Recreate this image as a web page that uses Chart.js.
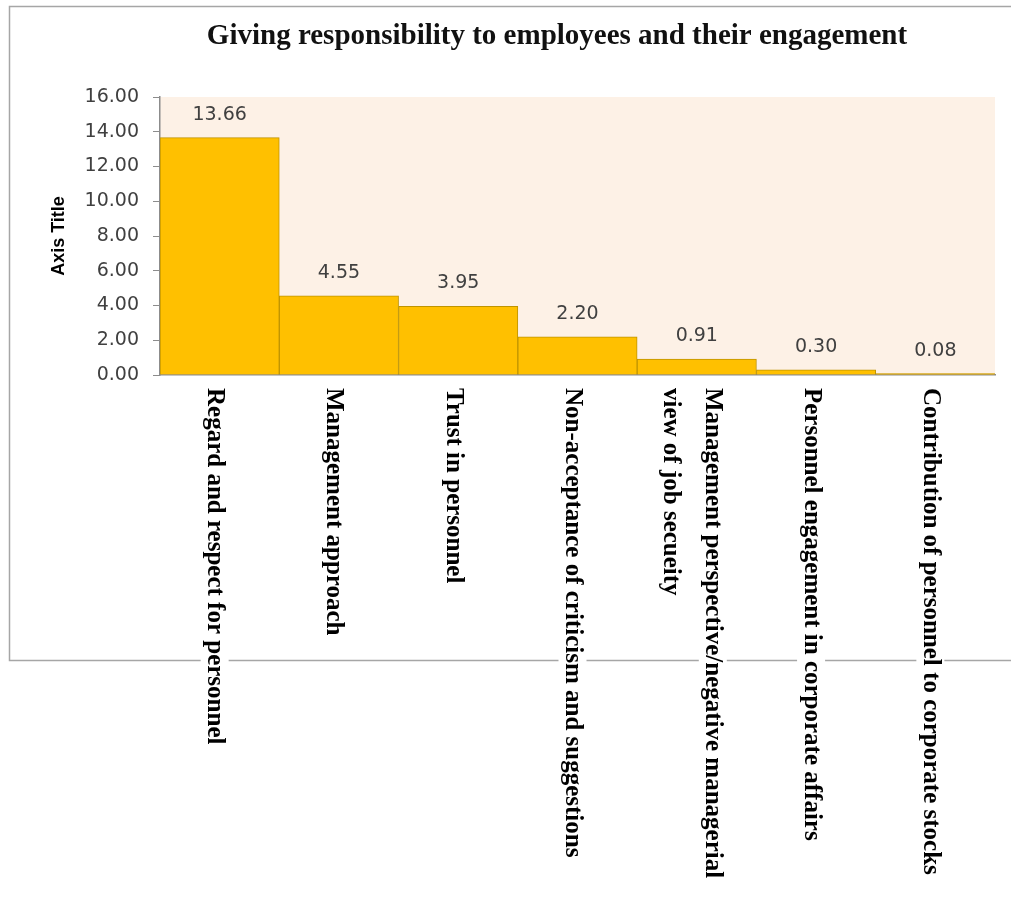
<!DOCTYPE html>
<html>
<head>
<meta charset="utf-8">
<script src="https://cdn.jsdelivr.net/npm/chart.js@4"></script>
<style>
  body { margin: 0; background: #fff; }
  #chart { display: block; }
</style>
</head>
<body>
<canvas id="chart" width="1011" height="897"></canvas>
<script>
const chartTitle = "Giving responsibility to employees and their engagement";

const categories = [
  "Regard and respect for personnel",
  "Management approach",
  "Trust in personnel",
  "Non-acceptance of criticism and suggestions",
  ["Management perspective/negative managerial", "view of job secueity"],
  "Personnel engagement in corporate affairs",
  "Contribution of personnel to corporate stocks",
];

const scores = [13.66, 4.55, 3.95, 2.2, 0.91, 0.3, 0.08];

const yMin = 0;
const yMax = 16;
const yStep = 2;

// white page, grey outer frame and the peach plot area
const backdrop = {
  id: "backdrop",
  beforeDraw(chart) {
    const { ctx, chartArea } = chart;
    ctx.save();
    ctx.fillStyle = "#ffffff";
    ctx.fillRect(0, 0, chart.width, chart.height);
    ctx.strokeStyle = "#a6a6a6";
    ctx.lineWidth = 1.5;
    ctx.strokeRect(9.5, 6.5, chart.width + 20, 654);
    ctx.fillStyle = "#fdf1e6";
    ctx.fillRect(chartArea.left, chartArea.top, chartArea.right - chartArea.left, chartArea.bottom - chartArea.top);
    ctx.restore();
  },
};

// value above each bar
const valueLabels = {
  id: "valueLabels",
  afterDatasetsDraw(chart) {
    const { ctx } = chart;
    const meta = chart.getDatasetMeta(0);
    ctx.save();
    ctx.font = "19px 'DejaVu Sans'";
    ctx.fillStyle = "#404040";
    ctx.textAlign = "center";
    ctx.textBaseline = "middle";
    meta.data.forEach((bar, i) => {
      ctx.fillText(scores[i].toFixed(2), bar.x, bar.y - 23);
    });
    ctx.restore();
  },
};

// category labels turned clockwise, reading downwards, plus the title
const categoryLabels = {
  id: "categoryLabels",
  afterDraw(chart) {
    const { ctx } = chart;
    const xScale = chart.scales.x;
    ctx.save();
    ctx.font = "bold 25px 'Liberation Serif'";
    ctx.textAlign = "left";
    ctx.textBaseline = "middle";
    categories.forEach((label, i) => {
      const lines = Array.isArray(label) ? label : [label];
      const cx = xScale.getPixelForValue(i) - 5;
      ctx.save();
      ctx.translate(cx, xScale.top + 13);
      ctx.rotate(Math.PI / 2);
      lines.forEach((line, j) => {
        const off = (j - (lines.length - 1) / 2) * 42;
        const w = ctx.measureText(line).width;
        ctx.fillStyle = "#ffffff";
        ctx.fillRect(-3, off - 14, w + 6, 28);
        ctx.fillStyle = "#000000";
        ctx.fillText(line, 0, off);
      });
      ctx.restore();
    });

    ctx.font = "bold 29px 'Liberation Serif'";
    ctx.fillStyle = "#111111";
    ctx.textAlign = "center";
    ctx.fillText(chartTitle, 557, 37);
    ctx.restore();
  },
};

new Chart(document.getElementById("chart"), {
  type: "bar",
  data: {
    labels: categories,
    datasets: [
      {
        label: "Score",
        data: scores,
        backgroundColor: "#ffc000",
        borderColor: "#bf9400",
        borderWidth: 1,
        categoryPercentage: 1,
        barPercentage: 1,
      },
    ],
  },
  options: {
    responsive: false,
    animation: false,
    devicePixelRatio: 1,
    layout: {
      padding: { top: 97, right: 16, left: 0, bottom: 0 },
    },
    scales: {
      x: {
        ticks: { display: false },
        grid: { display: false },
        border: { display: true, color: "#8c8c8c", width: 1.5 },
        afterFit(scale) {
          scale.height = 522;
        },
      },
      y: {
        min: yMin,
        max: yMax,
        ticks: {
          stepSize: yStep,
          padding: 14,
          color: "#404040",
          font: { family: "'DejaVu Sans'", size: 19 },
          callback: (value) => value.toFixed(2),
        },
        grid: {
          drawOnChartArea: false,
          drawTicks: true,
          tickLength: 7,
          color: "#8c8c8c",
        },
        border: { display: true, color: "#8c8c8c", width: 1.5 },
        title: {
          display: true,
          text: "Axis Title",
          color: "#000000",
          font: { family: "'Liberation Sans'", size: 18, weight: "bold" },
          padding: { top: 48, bottom: 0 },
        },
        afterFit(scale) {
          scale.width = 160;
        },
      },
    },
    plugins: {
      legend: { display: false },
      tooltip: { enabled: false },
      title: { display: false },
    },
  },
  plugins: [backdrop, valueLabels, categoryLabels],
});
</script>
</body>
</html>
